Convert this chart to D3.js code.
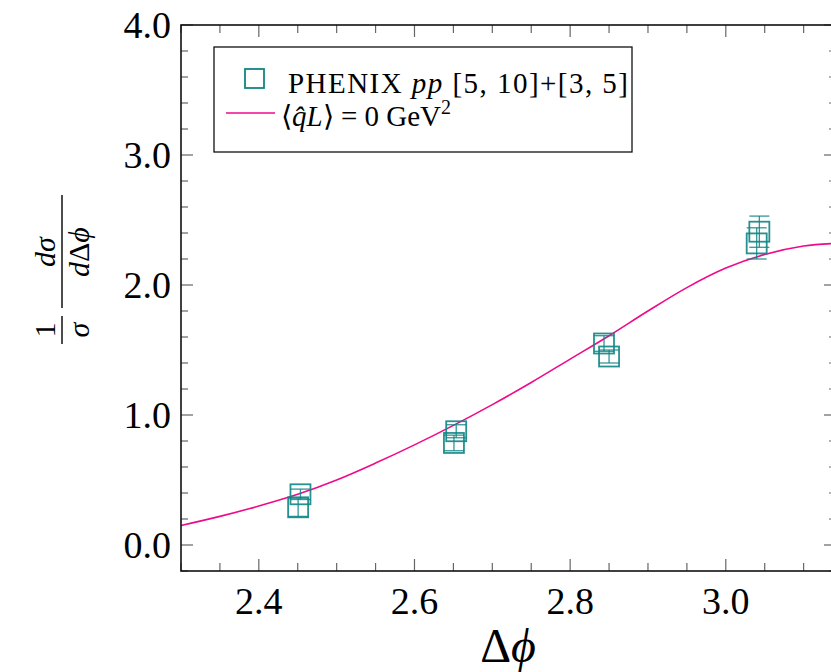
<!DOCTYPE html>
<html>
<head>
<meta charset="utf-8">
<script src="https://cdn.jsdelivr.net/npm/d3@7"></script>
<style>
  body { margin: 0; background: white; }
  svg text { font-family: "Liberation Serif", "Times New Roman", Tinos, serif; }
</style>
</head>
<body>
<script>
// PHENIX pp data, two overlaid sets
let setAx = [2.4535, 2.6536, 2.8435, 3.0431]
let setAy = [0.39, 0.875, 1.55, 2.41]
let setAerr = [0.04, 0.05, 0.06, 0.12]
let setBx = [2.4505, 2.6507, 2.8500, 3.0397]
let setBy = [0.29, 0.785, 1.45, 2.32]
let setBerr = [0.07, 0.06, 0.05, 0.12]

// <qL> = 0 curve
let curveX = [2.30, 2.35, 2.40, 2.45, 2.50, 2.55, 2.60, 2.65, 2.70, 2.75, 2.80, 2.85, 2.90, 2.95, 3.00, 3.05, 3.10, 3.1416]
let curveY = [0.15, 0.22, 0.30, 0.39, 0.50, 0.63, 0.77, 0.92, 1.08, 1.25, 1.43, 1.61, 1.80, 1.98, 2.13, 2.235, 2.30, 2.32]

let xTicks = [2.4, 2.6, 2.8, 3.0]
let yTicks = [0.0, 1.0, 2.0, 3.0, 4.0]

let w = 831
let h = 672
let teal = "#108585"
let pink = "#ee0a8a"
let tickColor = "#666"

let svg = d3.select("body").append("svg")
  .attr("width", w)
  .attr("height", h)

svg.append("rect").attr("width", w).attr("height", h).attr("fill", "white")

let xScale = d3.scaleLinear().domain([2.3, Math.PI]).range([181, 836])
let yScale = d3.scaleLinear().domain([-0.2, 4.0]).range([571, 25])

// minor ticks
let xMinor = d3.range(2.3, 3.15, 0.05)
let yMinor = d3.range(-0.2, 4.01, 0.2)

let ticks = svg.append("g")
xMinor.forEach((v)=>{
  let major = xTicks.some((t)=>Math.abs(t - v) < 1e-6)
  let len = major ? 12 : 8
  let x = xScale(v)
  ticks.append("line").attr("x1", x).attr("x2", x).attr("y1", 571).attr("y2", 571 - len)
    .attr("stroke", tickColor).attr("stroke-width", 1.2)
  ticks.append("line").attr("x1", x).attr("x2", x).attr("y1", 25).attr("y2", 25 + len)
    .attr("stroke", tickColor).attr("stroke-width", 1.2)
})
yMinor.forEach((v)=>{
  let major = yTicks.some((t)=>Math.abs(t - v) < 1e-6)
  let len = major ? 12 : 7
  let y = yScale(v)
  ticks.append("line").attr("x1", 181).attr("x2", 181 + len).attr("y1", y).attr("y2", y)
    .attr("stroke", tickColor).attr("stroke-width", 1.2)
  ticks.append("line").attr("x1", 836).attr("x2", 836 - len).attr("y1", y).attr("y2", y)
    .attr("stroke", tickColor).attr("stroke-width", 1.2)
})

// tick labels
svg.append("g").selectAll("text")
  .data(xTicks)
  .enter()
  .append("text")
  .attr("x", (d)=>xScale(d))
  .attr("y", 614)
  .attr("text-anchor", "middle")
  .attr("font-size", 38)
  .text((d)=>d.toFixed(1))

svg.append("g").selectAll("text")
  .data(yTicks)
  .enter()
  .append("text")
  .attr("x", 171)
  .attr("y", (d)=>yScale(d) + 13)
  .attr("text-anchor", "end")
  .attr("font-size", 38)
  .text((d)=>d.toFixed(1))

// curve
let line = d3.line()
  .x((d)=>xScale(d[0]))
  .y((d)=>yScale(d[1]))
  .curve(d3.curveCatmullRom)

svg.append("path")
  .datum(curveX.map((x, i)=>[x, curveY[i]]))
  .attr("d", line)
  .attr("fill", "none")
  .attr("stroke", pink)
  .attr("stroke-width", 1.6)

// data points with error bars
let drawSet = (xs, ys, errs)=>{
  let g = svg.append("g")
  xs.forEach((x, i)=>{
    let cx = xScale(x)
    let top = yScale(ys[i] + errs[i])
    let bot = yScale(ys[i] - errs[i])
    g.append("line").attr("x1", cx).attr("x2", cx).attr("y1", top).attr("y2", bot)
      .attr("stroke", teal).attr("stroke-width", 1.3).attr("opacity", 0.85)
    ;[top, bot].forEach((yy)=>{
      g.append("line").attr("x1", cx - 10).attr("x2", cx + 10).attr("y1", yy).attr("y2", yy)
        .attr("stroke", teal).attr("stroke-width", 1.3).attr("opacity", 0.85)
    })
    g.append("rect")
      .attr("x", cx - 10)
      .attr("y", yScale(ys[i]) - 10)
      .attr("width", 20)
      .attr("height", 20)
      .attr("fill", "none")
      .attr("stroke", teal)
      .attr("stroke-width", 1.8)
      .attr("opacity", 0.9)
  })
}
drawSet(setBx, setBy, setBerr)
drawSet(setAx, setAy, setAerr)

// frame
svg.append("rect")
  .attr("x", 181).attr("y", 25)
  .attr("width", 836 - 181).attr("height", 571 - 25)
  .attr("fill", "none")
  .attr("stroke", "#111")
  .attr("stroke-width", 1.6)

// legend
let legend = svg.append("g").attr("id", "legend")
legend.append("rect")
  .attr("x", 214).attr("y", 47)
  .attr("width", 418).attr("height", 105)
  .attr("fill", "white")
  .attr("stroke", "#111")
  .attr("stroke-width", 1.3)
legend.append("rect")
  .attr("x", 245).attr("y", 69)
  .attr("width", 19).attr("height", 19)
  .attr("fill", "none")
  .attr("stroke", teal)
  .attr("stroke-width", 1.8)
let t1 = legend.append("text").attr("x", 288).attr("y", 93).attr("font-size", 29)
  .attr("textLength", 340).attr("lengthAdjust", "spacing")
t1.append("tspan").text("PHENIX ")
t1.append("tspan").attr("font-style", "italic").text("pp")
t1.append("tspan").text(" [5, 10]+[3, 5]")

legend.append("line")
  .attr("x1", 226).attr("x2", 275).attr("y1", 113).attr("y2", 113)
  .attr("stroke", pink).attr("stroke-width", 1.6)
let t2 = legend.append("text").attr("x", 281).attr("y", 126).attr("font-size", 29)
t2.append("tspan").text("\u27E8")
t2.append("tspan").attr("font-style", "italic").text("q\u0302L")
t2.append("tspan").text("\u27E9 = 0 GeV")
t2.append("tspan").attr("font-size", 20).attr("dy", -12).text("2")

// x axis label
let xl = svg.append("text")
  .attr("x", 508)
  .attr("y", 662)
  .attr("text-anchor", "middle")
  .attr("font-size", 48)
xl.append("tspan").text("\u0394")
xl.append("tspan").attr("font-style", "italic").text("\u03D5")

// y axis label: (1/sigma) dsigma/dDeltaphi, rotated
let yl = svg.append("g").attr("transform", "translate(62,290) rotate(-90)")
yl.append("line").attr("x1", -54).attr("x2", -26).attr("y1", 0).attr("y2", 0)
  .attr("stroke", "#111").attr("stroke-width", 1.5)
yl.append("text").attr("x", -40).attr("y", -7).attr("text-anchor", "middle")
  .attr("font-size", 30).text("1")
yl.append("text").attr("x", -40).attr("y", 27).attr("text-anchor", "middle")
  .attr("font-size", 30).attr("font-style", "italic").text("\u03C3")
yl.append("line").attr("x1", -18).attr("x2", 95).attr("y1", 0).attr("y2", 0)
  .attr("stroke", "#111").attr("stroke-width", 1.5)
yl.append("text").attr("x", 38).attr("y", -7).attr("text-anchor", "middle")
  .attr("font-size", 30).attr("font-style", "italic").text("d\u03C3")
let den = yl.append("text").attr("x", 38).attr("y", 27).attr("text-anchor", "middle")
  .attr("font-size", 30)
den.append("tspan").attr("font-style", "italic").text("d")
den.append("tspan").text("\u0394")
den.append("tspan").attr("font-style", "italic").text("\u03D5")
</script>
</body>
</html>
